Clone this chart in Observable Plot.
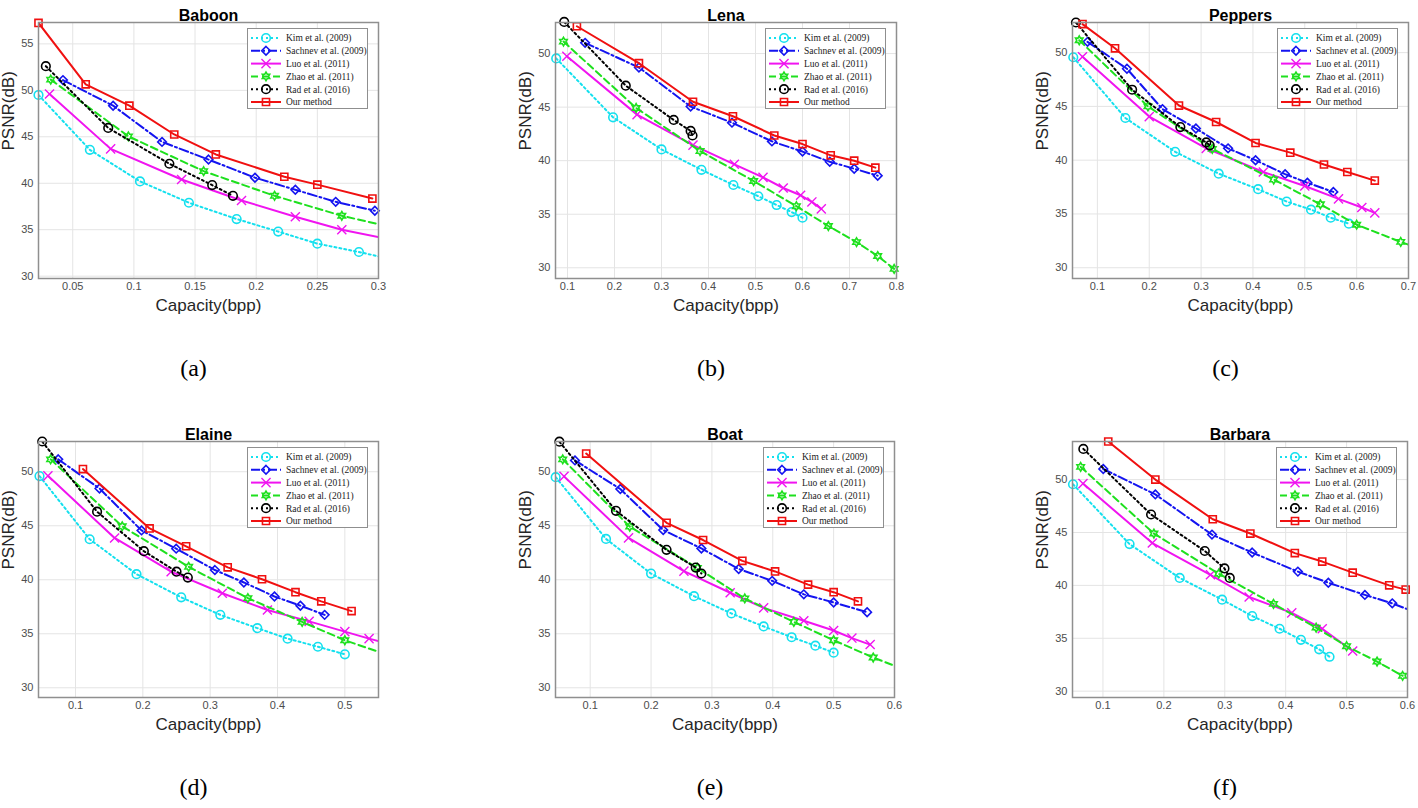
<!DOCTYPE html>
<html>
<head>
<meta charset="utf-8">
<script src="https://cdn.jsdelivr.net/npm/d3@7"></script>
<script src="https://cdn.jsdelivr.net/npm/@observablehq/plot@0.6"></script>
<style>
  html, body { margin: 0; padding: 0; background: #fff; }
  #fig { position: relative; width: 1418px; height: 808px; overflow: hidden; background: #fff; }
  .panel { position: absolute; }
</style>
</head>
<body>
<div id="fig"></div>
<script>
// ---------------- data ----------------
const seriesNames = ["Kim et al. (2009)", "Sachnev et al. (2009)", "Luo et al. (2011)", "Zhao et al. (2011)", "Rad et al. (2016)", "Our method"];
const panelTitles = ["Baboon", "Lena", "Peppers", "Elaine", "Boat", "Barbara"];
const panelCaptions = ["(a)", "(b)", "(c)", "(d)", "(e)", "(f)"];

const baboonXTicks = [0.05, 0.1, 0.15, 0.2, 0.25, 0.3];
const lenaXTicks = [0.1, 0.2, 0.3, 0.4, 0.5, 0.6, 0.7, 0.8];
const peppersXTicks = [0.1, 0.2, 0.3, 0.4, 0.5, 0.6, 0.7];
const elaineXTicks = [0.1, 0.2, 0.3, 0.4, 0.5];
const boatXTicks = [0.1, 0.2, 0.3, 0.4, 0.5, 0.6];
const barbaraXTicks = [0.1, 0.2, 0.3, 0.4, 0.5, 0.6];
const baboonYTicks = [30, 35, 40, 45, 50, 55];
const commonYTicks = [30, 35, 40, 45, 50];

// Baboon
const baboonKim = [[0.022,49.5],[0.064,43.6],[0.105,40.2],[0.145,37.9],[0.184,36.15],[0.218,34.8],[0.25,33.5],[0.284,32.6],[0.315,31.7]];
const baboonSachnev = [[0.042,51.1],[0.083,48.35],[0.123,44.45],[0.161,42.55],[0.199,40.6],[0.232,39.3],[0.265,38.0],[0.297,37.05]];
const baboonLuo = [[0.031,49.6],[0.081,43.7],[0.139,40.4],[0.188,38.15],[0.232,36.4],[0.27,35.0],[0.31,33.95]];
const baboonZhao = [[0.032,51.15],[0.0955,45.05],[0.157,41.3],[0.215,38.65],[0.27,36.5],[0.31,35.3]];
const baboonRad = [[0.028,52.6],[0.079,45.95],[0.129,42.1],[0.164,39.8],[0.181,38.65]];
const baboonOurs = [[0.022,57.25],[0.0606,50.65],[0.0963,48.35],[0.133,45.25],[0.167,43.1],[0.223,40.7],[0.25,39.85],[0.295,38.35]];

// Lena
const lenaKim = [[0.076,49.55],[0.197,44.05],[0.3,41.05],[0.385,39.15],[0.453,37.73],[0.506,36.68],[0.545,35.86],[0.577,35.2],[0.6,34.67]];
const lenaSachnev = [[0.1375,51.0],[0.252,48.7],[0.362,45.05],[0.45,43.55],[0.535,41.8],[0.6,40.85],[0.658,39.9],[0.71,39.25],[0.76,38.6]];
const lenaLuo = [[0.0986,49.75],[0.248,44.3],[0.367,41.45],[0.455,39.66],[0.516,38.44],[0.559,37.45],[0.596,36.77],[0.62,36.15],[0.64,35.5]];
const lenaZhao = [[0.0915,51.12],[0.246,44.92],[0.382,40.9],[0.496,38.1],[0.587,35.75],[0.655,33.9],[0.715,32.4],[0.76,31.1],[0.795,29.9]];
const lenaRad = [[0.093,52.95],[0.224,47.0],[0.326,43.8],[0.362,42.78],[0.366,42.35]];
const lenaOurs = [[0.12,52.55],[0.252,49.1],[0.367,45.5],[0.452,44.15],[0.54,42.35],[0.6,41.55],[0.66,40.5],[0.71,40.0],[0.755,39.35]];

// Peppers
const peppersKim = [[0.0535,49.57],[0.154,43.92],[0.25,40.78],[0.334,38.75],[0.41,37.3],[0.465,36.15],[0.512,35.4],[0.55,34.65],[0.585,34.1]];
const peppersSachnev = [[0.081,51.0],[0.157,48.5],[0.2255,44.75],[0.29,42.95],[0.352,41.1],[0.405,40.0],[0.462,38.7],[0.505,37.9],[0.555,37.05]];
const peppersLuo = [[0.0713,49.62],[0.2,44.05],[0.31,41.1],[0.42,38.9],[0.5,37.6],[0.565,36.4],[0.61,35.6],[0.635,35.1]];
const peppersZhao = [[0.065,51.15],[0.1975,45.0],[0.3216,41.05],[0.44,38.2],[0.53,35.9],[0.6,34.0],[0.685,32.4],[0.72,31.8]];
const peppersRad = [[0.0586,52.8],[0.167,46.55],[0.26,43.08],[0.31,41.65],[0.3166,41.38]];
const peppersOurs = [[0.0713,52.65],[0.134,50.4],[0.2573,45.08],[0.329,43.55],[0.405,41.6],[0.472,40.7],[0.537,39.6],[0.582,38.9],[0.635,38.1]];

// Elaine
const elaineKim = [[0.0465,49.6],[0.121,43.75],[0.1906,40.52],[0.257,38.37],[0.315,36.75],[0.37,35.52],[0.415,34.55],[0.46,33.8],[0.5,33.1]];
const elaineSachnev = [[0.0743,51.15],[0.1356,48.45],[0.198,44.57],[0.2495,42.88],[0.307,40.9],[0.35,39.75],[0.3955,38.45],[0.434,37.6],[0.47,36.75]];
const elaineLuo = [[0.059,49.62],[0.158,43.87],[0.242,40.75],[0.318,38.75],[0.385,37.2],[0.447,36.15],[0.5,35.2],[0.536,34.55],[0.57,34.0]];
const elaineZhao = [[0.063,51.15],[0.1693,44.95],[0.268,41.2],[0.356,38.3],[0.4366,36.1],[0.5,34.4],[0.57,32.9]];
const elaineRad = [[0.0505,52.8],[0.132,46.3],[0.2015,42.65],[0.25,40.75],[0.2668,40.2]];
const elaineOurs = [[0.111,50.25],[0.21,44.75],[0.2643,43.1],[0.326,41.15],[0.377,40.05],[0.4267,38.85],[0.465,38.0],[0.51,37.1]];

// Boat
const boatKim = [[0.0433,49.5],[0.126,43.78],[0.2,40.57],[0.2706,38.48],[0.332,36.88],[0.385,35.68],[0.431,34.68],[0.47,33.9],[0.5,33.25]];
const boatSachnev = [[0.075,51.05],[0.1495,48.4],[0.22,44.6],[0.2827,42.9],[0.344,41.0],[0.399,39.9],[0.451,38.65],[0.5,37.9],[0.555,37.0]];
const boatLuo = [[0.057,49.57],[0.163,43.88],[0.254,40.8],[0.33,38.8],[0.385,37.4],[0.451,36.2],[0.5,35.3],[0.53,34.6],[0.56,34.0]];
const boatZhao = [[0.0549,51.15],[0.165,44.92],[0.276,41.1],[0.354,38.27],[0.4346,36.1],[0.5,34.4],[0.565,32.8],[0.62,31.6]];
const boatRad = [[0.0494,52.78],[0.1424,46.38],[0.2255,42.77],[0.2734,41.13],[0.2827,40.58]];
const boatOurs = [[0.0934,51.68],[0.2255,45.27],[0.2855,43.68],[0.35,41.75],[0.4038,40.77],[0.458,39.55],[0.5,38.85],[0.54,38.0]];

// Barbara
const barbaraKim = [[0.0508,49.56],[0.1437,43.9],[0.226,40.7],[0.2956,38.65],[0.345,37.1],[0.39,35.9],[0.425,34.85],[0.455,33.95],[0.472,33.25]];
const barbaraSachnev = [[0.1005,51.0],[0.186,48.6],[0.279,44.8],[0.345,43.1],[0.42,41.3],[0.47,40.25],[0.53,39.1],[0.575,38.3],[0.62,37.3]];
const barbaraLuo = [[0.0672,49.62],[0.181,44.0],[0.2765,41.0],[0.34,38.9],[0.41,37.4],[0.46,35.9],[0.51,33.8]];
const barbaraZhao = [[0.0634,51.2],[0.1836,44.9],[0.29,41.1],[0.38,38.25],[0.45,36.0],[0.5,34.25],[0.55,32.8],[0.592,31.45]];
const barbaraRad = [[0.0678,52.9],[0.179,46.7],[0.2672,43.25],[0.2995,41.6],[0.3082,40.7]];
const barbaraOurs = [[0.1087,53.6],[0.186,50.0],[0.2803,46.25],[0.342,44.9],[0.415,43.05],[0.46,42.25],[0.51,41.2],[0.57,40.0],[0.597,39.6]];

// ---------------- styles ----------------
const hexagram = {
  draw(context, size) {
    const R = Math.sqrt(size / 2.1), r = R / Math.sqrt(3);
    for (let i = 0; i < 12; i++) {
      const a = Math.PI / 6 * i - Math.PI / 2, rr = i % 2 ? r : R;
      const x = rr * Math.cos(a), y = rr * Math.sin(a);
      if (i) context.lineTo(x, y); else context.moveTo(x, y);
    }
    context.closePath();
  }
};
const seriesStyles = [
  {color: "#14e0ee", dash: "2,3", symbol: d3.symbolCircle, r: 4.3, sw: 1.6},
  {color: "#1414f0", dash: "9,3,2,3", symbol: d3.symbolDiamond2, r: 3.9, sw: 1.6},
  {color: "#f014f0", dash: null, symbol: d3.symbolTimes, r: 4.2, sw: 1.4},
  {color: "#1ee01e", dash: "7,4", symbol: hexagram, r: 3.5, sw: 1.6},
  {color: "#000000", dash: "2,3", symbol: d3.symbolCircle, r: 4.3, sw: 1.6},
  {color: "#f01010", dash: null, symbol: d3.symbolSquare, r: 4.0, sw: 1.6}
];

const panels = [
  {series: [baboonKim, baboonSachnev, baboonLuo, baboonZhao, baboonRad, baboonOurs], xd: [0.022, 0.3], yd: [29.75, 57.3], xt: baboonXTicks, yt: baboonYTicks, left: 0, top: 0, aw: 340, mr: 12},
  {series: [lenaKim, lenaSachnev, lenaLuo, lenaZhao, lenaRad, lenaOurs], xd: [0.0745, 0.8], yd: [29, 52.9], xt: lenaXTicks, yt: commonYTicks, left: 517, top: 0, aw: 341, mr: 12},
  {series: [peppersKim, peppersSachnev, peppersLuo, peppersZhao, peppersRad, peppersOurs], xd: [0.052, 0.7], yd: [29, 52.8], xt: peppersXTicks, yt: commonYTicks, left: 1034, top: 0, aw: 336, mr: 10},
  {series: [elaineKim, elaineSachnev, elaineLuo, elaineZhao, elaineRad, elaineOurs], xd: [0.045, 0.55], yd: [29.1, 52.8], xt: elaineXTicks, yt: commonYTicks, left: 0, top: 419, aw: 340, mr: 12},
  {series: [boatKim, boatSachnev, boatLuo, boatZhao, boatRad, boatOurs], xd: [0.043, 0.6], yd: [29.1, 52.8], xt: boatXTicks, yt: commonYTicks, left: 517, top: 419, aw: 339, mr: 12},
  {series: [barbaraKim, barbaraSachnev, barbaraLuo, barbaraZhao, barbaraRad, barbaraOurs], xd: [0.05, 0.6], yd: [29.4, 53.6], xt: barbaraXTicks, yt: commonYTicks, left: 1034, top: 419, aw: 335, mr: 10}
];

const fig = document.getElementById("fig");
const ML = 38, MT = 22, MB = 110, AH = 256;

panels.forEach((p, i) => {
  const AW = p.aw, MR = p.mr;
  const marks = [
    Plot.gridX(p.xt, {stroke: "#e4e4e4", strokeOpacity: 1, strokeWidth: 1}),
    Plot.gridY(p.yt, {stroke: "#e4e4e4", strokeOpacity: 1, strokeWidth: 1}),
    Plot.axisX(p.xt, {tickSize: 0, tickPadding: 4, fontSize: 11, color: "#4d4d4d", tickFormat: d => String(d), label: null}),
    Plot.axisY(p.yt, {tickSize: 0, tickPadding: 5, fontSize: 11, color: "#4d4d4d", tickFormat: d => String(d), label: null})
  ];
  p.series.forEach((data, k) => {
    const s = seriesStyles[k];
    marks.push(Plot.line(data, {x: d => d[0], y: d => d[1], stroke: s.color, strokeWidth: 2, strokeDasharray: s.dash, clip: true}));
    marks.push(Plot.dot(data.filter(d => d[0] >= p.xd[0] - 1e-9 && d[0] <= p.xd[1] + 1e-9), {x: d => d[0], y: d => d[1], symbol: s.symbol, r: s.r, stroke: s.color, strokeWidth: s.sw, fill: "none"}));
  });
  marks.push(Plot.frame({stroke: "#8f8f8f", strokeWidth: 1.5}));
  marks.push(Plot.text([panelTitles[i]], {text: d => d, frameAnchor: "top", dy: -13, fontSize: 16, fontWeight: "bold", fill: "#000"}));
  marks.push(Plot.text(["PSNR(dB)"], {text: d => d, frameAnchor: "left", dx: -30, rotate: -90, fontSize: 17, fill: "#262626"}));
  marks.push(Plot.text(["Capacity(bpp)"], {text: d => d, frameAnchor: "bottom", dy: 32, fontSize: 17, fill: "#262626"}));
  marks.push(Plot.text([panelCaptions[i]], {text: d => d, frameAnchor: "bottom", dy: 97, dx: -15, fontSize: 24, fill: "#000", fontFamily: "Liberation Serif, DejaVu Serif, serif"}));

  const chart = Plot.plot({
    width: ML + AW + MR, height: MT + AH + MB,
    marginLeft: ML, marginRight: MR, marginTop: MT, marginBottom: MB,
    x: {domain: p.xd}, y: {domain: p.yd},
    style: {fontFamily: "Liberation Sans, Arial, sans-serif", background: "white", overflow: "visible"},
    marks
  });
  const div = document.createElement("div");
  div.className = "panel";
  div.style.left = p.left + "px";
  div.style.top = p.top + "px";
  div.style.width = (ML + AW + MR) + "px";
  div.style.height = (MT + AH + MB) + "px";
  div.appendChild(chart);
  fig.appendChild(div);

  // legend box (top-right inside axes)
  const lg = d3.select(div).append("svg")
    .attr("width", 122).attr("height", 82)
    .style("position", "absolute")
    .style("left", (ML + AW - 131) + "px")
    .style("top", (MT + 6) + "px");
  lg.append("rect").attr("x", 0.5).attr("y", 0.5).attr("width", 120).attr("height", 80)
    .attr("fill", "#fff").attr("stroke", "#8f8f8f").attr("stroke-width", 1);
  seriesNames.forEach((name, k) => {
    const s = seriesStyles[k];
    const yy = 10 + k * 12.8;
    lg.append("line").attr("x1", 4).attr("x2", 34).attr("y1", yy).attr("y2", yy)
      .attr("stroke", s.color).attr("stroke-width", 2).attr("stroke-dasharray", s.dash);
    lg.append("path").attr("d", d3.symbol(s.symbol, s.r * s.r * Math.PI)())
      .attr("transform", `translate(19,${yy})`)
      .attr("fill", "none").attr("stroke", s.color).attr("stroke-width", s.sw);
    lg.append("text").attr("x", 39).attr("y", yy).attr("dy", "0.35em")
      .attr("font-family", "Liberation Serif, DejaVu Serif, serif").attr("font-size", 9.5)
      .attr("fill", "#222").text(name);
  });
});
</script>
</body>
</html>
